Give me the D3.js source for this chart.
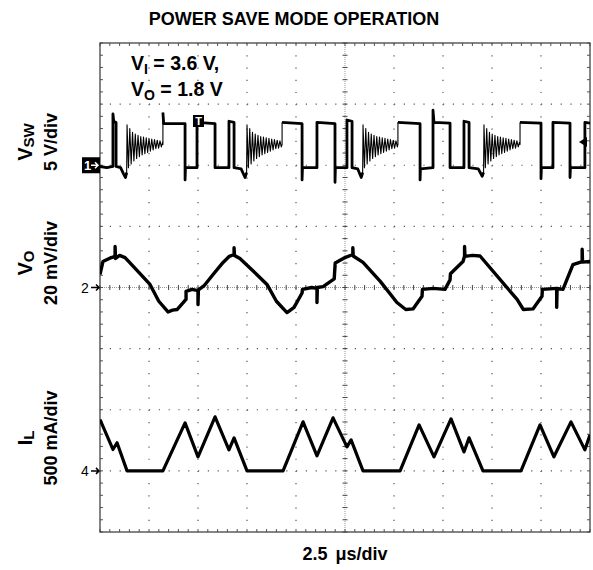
<!DOCTYPE html>
<html>
<head>
<meta charset="utf-8">
<script src="https://cdnjs.cloudflare.com/ajax/libs/d3/7.8.5/d3.min.js"></script>
<style>
body { margin: 0; background: #fff; }
text { font-family: 'Liberation Sans', Arial, sans-serif; font-weight: bold; fill: #000; }
</style>
</head>
<body>
<div id="chart"></div>
<script>
// time base in us, 2.5 us/div over 10 div
const timeDomain = [0, 25];

// ch1 - switch node voltage, [us, V]; ringing bursts are added below
const vswPoints = [
	[0, -0.1], [0.35, -0.2], [0.66, -0.1], [0.66, 4.2], [0.7, 3.6], [0.82, 3.5], [0.82, -0.1],
	[1.05, -0.2], [1.2, -0.7], [1.3, -1.0], [1.36, -0.6],
	[3.21, 1.7], [3.21, 4.3], [3.25, 3.4], [4.34, 3.4], [4.34, -1.2], [4.36, -0.2], [4.95, -0.2],
	[4.95, 3.5], [5.87, 3.4], [5.87, -0.2], [6.58, -0.2], [6.58, 3.6], [6.84, 3.5],
	[6.84, -0.2], [7.2, -0.3], [7.4, -1.0], [7.48, -0.6],
	[9.29, 1.7], [9.29, 3.5], [10.31, 3.4], [10.31, -1.2], [10.33, -0.2], [11.07, -0.2], [11.07, 3.5],
	[11.99, 3.4], [11.99, -1.4], [12.01, -0.2], [12.6, -0.2], [12.6, 3.7], [12.86, 3.6], [12.86, -0.2],
	[13.15, -0.3], [13.33, -1.0], [13.4, -0.6],
	[15.2, 1.7], [15.2, 3.5], [16.33, 3.4], [16.33, -1.2], [16.35, -0.3], [16.99, -0.2], [16.99, 4.5],
	[17.04, 3.5], [17.86, 3.45], [17.86, -0.2], [18.57, -0.2], [18.57, 3.6], [18.83, 3.5],
	[18.83, -0.2], [19.3, -0.3], [19.5, -0.9], [19.57, -0.6],
	[21.43, 1.7], [21.43, 3.5], [22.5, 3.45], [22.5, -1.1], [22.52, -0.2], [23.11, -0.2], [23.11, 3.5],
	[23.98, 3.45], [23.98, -1.0], [24.0, -0.2], [24.74, -0.2], [24.74, 3.5], [25, 3.45]
];
const ringStart = [1.38, 7.5, 13.42, 19.59];
const ringEnd = [3.21, 9.29, 15.2, 21.43];
const ringShape = [
	[0.00, 3.3], [0.07, -0.2], [0.14, 3.0], [0.21, 0.1], [0.28, 2.7], [0.35, 0.35],
	[0.42, 2.55], [0.49, 0.55], [0.56, 2.45], [0.63, 0.7], [0.70, 2.35], [0.77, 0.85],
	[0.84, 2.3], [0.91, 0.95], [0.98, 2.25], [1.05, 1.05], [1.12, 2.2], [1.19, 1.15],
	[1.26, 2.15], [1.33, 1.25], [1.40, 2.1], [1.47, 1.35], [1.54, 2.05], [1.61, 1.4],
	[1.68, 2.0], [1.75, 1.5], [1.82, 1.9]
];

// ch2 - output voltage ripple, [us, mV] from the marker
const voPoints = [
	[0, 4.3], [0.15, 8.5], [0.5, 9.6], [0.77, 10.2], [0.77, 13.4], [0.79, 9.5], [1.0, 10.5], [1.28, 9.8],
	[1.9, 5.5], [2.55, 1.0], [3.0, -4.5], [3.47, -8.0], [3.7, -7.4], [3.93, -7.2], [4.3, -4.5],
	[4.39, -3.9], [4.39, -1.3], [4.7, -0.6], [5.0, -1.0], [5.0, -5.6], [5.02, -0.8], [5.3, 0.5],
	[5.8, 4.5], [6.28, 8.2], [6.6, 10.2], [6.84, 10.8], [6.84, 13.0], [6.86, 10.5], [7.14, 9.5],
	[7.8, 5.5], [8.52, 1.0], [9.0, -4.5], [9.54, -8.2], [9.9, -6.5], [10.31, -1.8], [10.33, -0.6],
	[10.8, 0], [11.07, -0.3], [11.07, -4.9], [11.09, 0], [11.38, 0.3], [11.95, 2.8], [12.0, 8.0],
	[12.5, 9.8], [12.9, 10.8], [12.9, 13.0], [12.92, 10.3], [13.42, 8.2], [14.3, 2.0], [15.15, -4.9],
	[15.6, -7.2], [15.97, -7.0], [16.43, -2.9], [16.45, -0.6], [17.0, -0.3], [17.6, -0.6],
	[17.86, 2.5], [17.88, 4.5], [18.52, 8.5], [18.6, 10.2], [18.6, 13.4], [18.62, 10.2], [19.0, 10.5],
	[19.39, 10.3], [21.28, -3.9], [21.6, -7.2], [22.09, -7.0], [22.55, -2.9], [22.57, -0.6],
	[23.3, -0.3], [23.3, -6.5], [23.32, -0.3], [23.62, -0.6], [24.13, 7.5], [24.6, 8.5],
	[24.6, 12.5], [24.62, 8.3], [25, 8.5]
];

// ch4 - inductor current, [us, mA]
const ilPoints = [
	[0, 420], [0.66, 175], [0.87, 230], [1.38, 0], [3.21, 0], [4.34, 393], [5.0, 115], [5.87, 442],
	[6.58, 172], [6.84, 270], [7.5, 0], [9.34, 0], [10.36, 401], [11.07, 123], [11.89, 434],
	[12.6, 196], [12.81, 254], [13.42, 0], [15.31, 0], [16.28, 376], [17.04, 115], [17.91, 425],
	[18.57, 155], [18.83, 270], [19.54, 0], [21.48, 0], [22.45, 376], [23.16, 115], [24.03, 401],
	[24.74, 172], [25, 295]
];

const triggerTime = 5.0;   // us
const triggerLevel = 1.9;  // V on ch1

const W = 593, H = 570;
const plotL = 100, plotR = 590, plotT = 43, plotB = 532;
const divW = (plotR - plotL) / 10, divH = (plotB - plotT) / 8;

const x = d3.scaleLinear().domain(timeDomain).range([plotL, plotR]);
const yVsw = d3.scaleLinear().domain([0, 5]).range([plotT + 2 * divH, plotT + divH]);
const yVo = d3.scaleLinear().domain([0, 20]).range([plotT + 4 * divH, plotT + 3 * divH]);
const yIl = d3.scaleLinear().domain([0, 500]).range([plotT + 7 * divH, plotT + 6 * divH]);

const svg = d3.select('#chart').append('svg')
	.attr('width', W)
	.attr('height', H);

svg.append('defs').append('clipPath').attr('id', 'plotClip')
	.append('rect')
	.attr('x', plotL).attr('y', plotT)
	.attr('width', plotR - plotL).attr('height', plotB - plotT);

let grid = svg.append('g').attr('id', 'grid');

// dotted division lines
d3.range(1, 10).filter(i => i != 5).forEach(i => {
	grid.append('line')
		.attr('x1', plotL + i * divW).attr('x2', plotL + i * divW)
		.attr('y1', plotT).attr('y2', plotB)
		.attr('stroke', '#555').attr('stroke-width', 1.2)
		.attr('stroke-dasharray', '1.2 ' + (divH / 5 - 1.2));
});
d3.range(1, 8).filter(j => j != 4).forEach(j => {
	grid.append('line')
		.attr('x1', plotL).attr('x2', plotR)
		.attr('y1', plotT + j * divH).attr('y2', plotT + j * divH)
		.attr('stroke', '#555').attr('stroke-width', 1.2)
		.attr('stroke-dasharray', '1.2 ' + (divW / 5 - 1.2));
});

// centre cross with minor ticks
const cx = plotL + 5 * divW, cy = plotT + 4 * divH;
grid.append('line')
	.attr('x1', cx).attr('x2', cx).attr('y1', plotT).attr('y2', plotB)
	.attr('stroke', '#999').attr('stroke-dasharray', '1 1');
grid.append('line')
	.attr('x1', plotL).attr('x2', plotR).attr('y1', cy).attr('y2', cy)
	.attr('stroke', '#999').attr('stroke-dasharray', '1 1');

let minorY = d3.range(0, 41).map(k => plotT + k * divH / 5);
let minorX = d3.range(0, 51).map(k => plotL + k * divW / 5);

grid.selectAll('.tickCY').data(minorY).enter().append('line')
	.attr('x1', cx - 2.5).attr('x2', cx + 2.5)
	.attr('y1', d => d).attr('y2', d => d)
	.attr('stroke', '#444');
grid.selectAll('.tickCX').data(minorX).enter().append('line')
	.attr('x1', d => d).attr('x2', d => d)
	.attr('y1', cy - 2.5).attr('y2', cy + 2.5)
	.attr('stroke', '#444');

// border ticks
grid.selectAll('.tickL').data(minorY).enter().append('line')
	.attr('x1', plotL).attr('x2', plotL + 3)
	.attr('y1', d => d).attr('y2', d => d).attr('stroke', '#555');
grid.selectAll('.tickR').data(minorY).enter().append('line')
	.attr('x1', plotR - 3).attr('x2', plotR)
	.attr('y1', d => d).attr('y2', d => d).attr('stroke', '#555');
grid.selectAll('.tickT').data(minorX).enter().append('line')
	.attr('x1', d => d).attr('x2', d => d)
	.attr('y1', plotT).attr('y2', plotT + 3).attr('stroke', '#555');
grid.selectAll('.tickB').data(minorX).enter().append('line')
	.attr('x1', d => d).attr('x2', d => d)
	.attr('y1', plotB - 3).attr('y2', plotB).attr('stroke', '#555');

grid.append('rect')
	.attr('x', plotL).attr('y', plotT)
	.attr('width', plotR - plotL).attr('height', plotB - plotT)
	.attr('fill', 'none').attr('stroke', '#444').attr('stroke-width', 1.3);

// traces
let vsw = vswPoints.slice();
ringStart.forEach((t0, i) => {
	ringShape.forEach(([dt, v]) => {
		if (t0 + dt < ringEnd[i]) vsw.push([t0 + dt, v]);
	});
});
vsw.sort((a, b) => a[0] - b[0]);

// the flat parts of ch1 are drawn again heavier, broken over the ringing
let vswFlat = [];
vswPoints.forEach(p => {
	if (ringEnd.indexOf(p[0]) >= 0 && vswFlat.length) vswFlat.push(null);
	vswFlat.push(p);
});

let traces = svg.append('g').attr('clip-path', 'url(#plotClip)');

const traceDefs = [
	{data: vsw, y: yVsw, w: 1.1},
	{data: vswFlat, y: yVsw, w: 2.8},
	{data: voPoints, y: yVo, w: 3.4},
	{data: ilPoints, y: yIl, w: 3.2}
];
traceDefs.forEach(tr => {
	let line = d3.line()
		.defined(d => d != null)
		.x(d => x(d[0]))
		.y(d => tr.y(d[1]));
	traces.append('path').datum(tr.data)
		.attr('d', line)
		.attr('fill', 'none')
		.attr('stroke', '#000')
		.attr('stroke-width', tr.w)
		.attr('stroke-linejoin', 'round');
});

// channel reference markers
let marks = svg.append('g');
marks.append('rect')
	.attr('x', plotL - 18).attr('y', yVsw(0) - 8)
	.attr('width', 18).attr('height', 16).attr('fill', '#000');
marks.append('text')
	.attr('x', plotL - 16).attr('y', yVsw(0) + 5)
	.attr('font-size', 13).style('fill', '#fff').text('1');
marks.append('path')
	.attr('d', `M${plotL - 9},${yVsw(0)}H${plotL - 2}M${plotL - 5},${yVsw(0) - 3}L${plotL - 2},${yVsw(0)}L${plotL - 5},${yVsw(0) + 3}`)
	.attr('stroke', '#fff').attr('stroke-width', 1.5).attr('fill', 'none');

[['2', yVo(0)], ['4', yIl(0)]].forEach(([lab, yy]) => {
	marks.append('text')
		.attr('x', plotL - 19).attr('y', yy + 5)
		.attr('font-size', 14).style('font-weight', 'normal').text(lab);
	marks.append('path')
		.attr('d', `M${plotL - 9},${yy}H${plotL - 1}M${plotL - 4},${yy - 3}L${plotL - 1},${yy}L${plotL - 4},${yy + 3}`)
		.attr('stroke', '#000').attr('stroke-width', 1.5).attr('fill', 'none');
});

// trigger position and level
marks.append('rect')
	.attr('x', x(triggerTime) - 5).attr('y', plotT + 72)
	.attr('width', 11).attr('height', 12).attr('fill', '#000');
marks.append('text')
	.attr('x', x(triggerTime) + 0.5).attr('y', plotT + 82)
	.attr('text-anchor', 'middle').attr('font-size', 11)
	.style('fill', '#fff').text('T');
marks.append('path')
	.attr('d', `M${plotR - 11},${yVsw(triggerLevel)}L${plotR - 3},${yVsw(triggerLevel) - 5}L${plotR - 3},${yVsw(triggerLevel) + 5}Z`)
	.attr('fill', '#000');

// texts
svg.append('text')
	.attr('x', 294).attr('y', 25)
	.attr('text-anchor', 'middle').attr('font-size', 18)
	.text('POWER SAVE MODE OPERATION');

function subText(g, xx, yy, main, sub, rest, size, subSize) {
	let t = g.append('text').attr('x', xx).attr('y', yy).attr('font-size', size);
	t.append('tspan').text(main);
	t.append('tspan').attr('font-size', subSize).attr('dy', 4).text(sub);
	if (rest) t.append('tspan').attr('dy', -4).text(rest);
	return t;
}
subText(svg, 131, 70, 'V', 'I', ' = 3.6 V,', 19.5, 14);
subText(svg, 131, 96, 'V', 'O', ' = 1.8 V', 19.5, 14);

const chLabels = [
	{name: 'V', sub: 'SW', scale: '5 V/div', y: 142},
	{name: 'V', sub: 'O', scale: '20 mV/div', y: 263},
	{name: 'I', sub: 'L', scale: '500 mA/div', y: 438}
];
chLabels.forEach(c => {
	let g = svg.append('g').attr('transform', `translate(32,${c.y}) rotate(-90)`);
	let t = g.append('text').attr('text-anchor', 'middle').attr('font-size', 20);
	t.append('tspan').text(c.name);
	t.append('tspan').attr('font-size', 15).attr('dy', 2).text(c.sub);
	svg.append('g').attr('transform', `translate(57,${c.y}) rotate(-90)`)
		.append('text').attr('text-anchor', 'middle').attr('font-size', 18)
		.text(c.scale);
});

svg.append('text')
	.attr('x', (plotL + plotR) / 2).attr('y', 560)
	.attr('text-anchor', 'middle').attr('font-size', 18)
	.attr('word-spacing', 3)
	.text('2.5 \u03bcs/div');
</script>
</body>
</html>
